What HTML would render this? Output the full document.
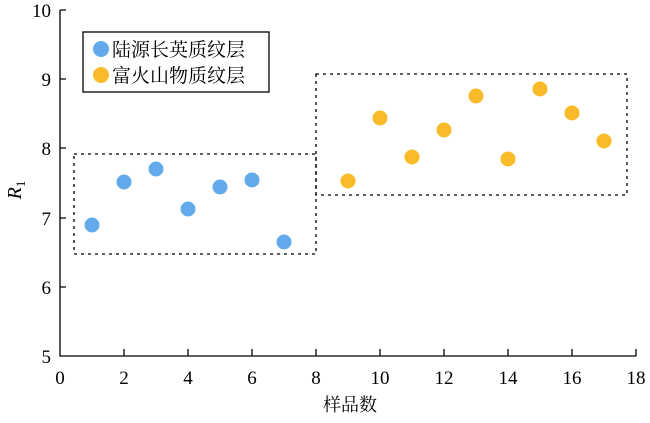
<!DOCTYPE html><html><head><meta charset="utf-8"><style>body{margin:0;background:#fff}svg{font-family:"Liberation Serif","Noto Serif CJK SC",serif}.cjk{font-family:"Noto Serif CJK SC","Noto Sans CJK SC",serif}</style></head><body>
<svg width="650" height="418" xmlns="http://www.w3.org/2000/svg">
<g stroke="#000" stroke-width="1.3" fill="none">
<path d="M60,10V356H636"/>
<path d="M60,10h6M60,79h6M60,148h6M60,218h6M60,287h6"/>
<path d="M124,356v-7M188,356v-7M252,356v-7M316,356v-7M380,356v-7M444,356v-7M508,356v-7M572,356v-7M636,356v-7"/>
</g>
<g font-size="19" text-anchor="end">
<text x="51" y="17">10</text><text x="51" y="86">9</text><text x="51" y="155">8</text><text x="51" y="225">7</text><text x="51" y="294">6</text><text x="51" y="363">5</text>
</g>
<g font-size="19" text-anchor="middle">
<text x="60" y="384">0</text><text x="124" y="384">2</text><text x="188" y="384">4</text><text x="252" y="384">6</text><text x="316" y="384">8</text><text x="380" y="384">10</text><text x="444" y="384">12</text><text x="508" y="384">14</text><text x="572" y="384">16</text><text x="636" y="384">18</text>
</g>
<text class="cjk" x="350" y="411" font-size="18" text-anchor="middle">样品数</text>
<text transform="translate(21,190) rotate(-90)" font-size="20" font-style="italic" text-anchor="middle">R<tspan font-style="normal" font-size="13" dy="4">1</tspan></text>
<g stroke="#000" stroke-width="1.3" fill="none" stroke-dasharray="3,4">
<rect x="74" y="154" width="242" height="100"/>
<rect x="316" y="74" width="311" height="121"/>
</g>
<g fill="#63aaec">
<circle cx="92" cy="225" r="7.5"/><circle cx="124" cy="182" r="7.5"/><circle cx="156" cy="169" r="7.5"/><circle cx="188" cy="209" r="7.5"/><circle cx="220" cy="187" r="7.5"/><circle cx="252" cy="180" r="7.5"/><circle cx="284" cy="242" r="7.5"/>
</g>
<g fill="#f9bb2a">
<circle cx="348" cy="181" r="7.5"/><circle cx="380" cy="118" r="7.5"/><circle cx="412" cy="157" r="7.5"/><circle cx="444" cy="130" r="7.5"/><circle cx="476" cy="96" r="7.5"/><circle cx="508" cy="159" r="7.5"/><circle cx="540" cy="89" r="7.5"/><circle cx="572" cy="113" r="7.5"/><circle cx="604" cy="141" r="7.5"/>
</g>
<rect x="83" y="32" width="186" height="60" fill="#fff" stroke="#000" stroke-width="1.3"/>
<circle cx="101" cy="49" r="8" fill="#63aaec"/>
<circle cx="101" cy="75" r="8" fill="#f9bb2a"/>
<g font-size="19" class="cjk">
<text x="112" y="56">陆源长英质纹层</text>
<text x="112" y="82">富火山物质纹层</text>
</g>
</svg>
</body></html>
